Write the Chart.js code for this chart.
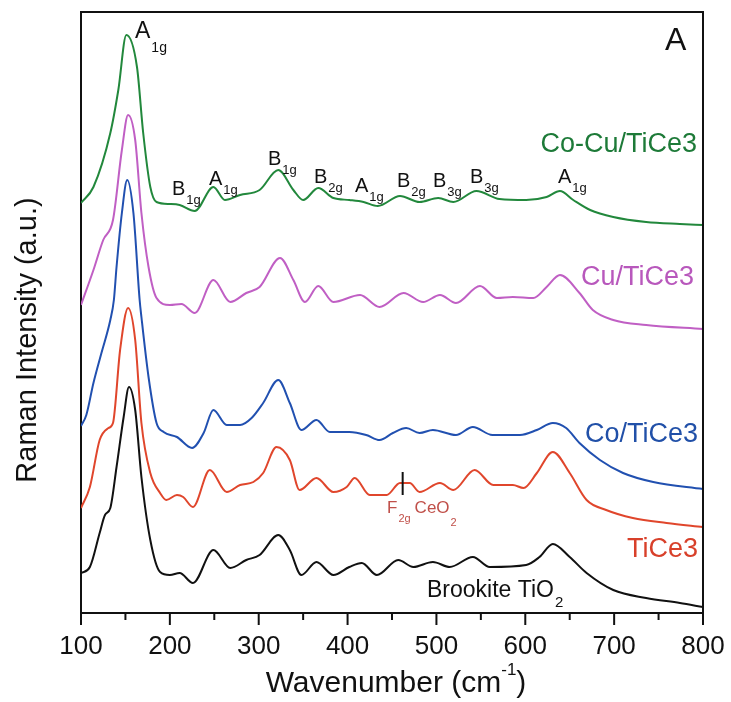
<!DOCTYPE html>
<html>
<head>
<meta charset="utf-8">
<script src="https://cdn.jsdelivr.net/npm/chart.js@4.4.1/dist/chart.umd.min.js"></script>
<style>
  html, body { margin: 0; padding: 0; background: #fff; }
  #wrap { width: 731px; height: 702px; }
</style>
</head>
<body>
<div id="wrap"><canvas id="raman" width="731" height="702"></canvas></div>
<script>
// Raman spectra, stacked (a.u.).
const FONT = '"Liberation Sans", Arial, sans-serif';

const coCuWn = [100, 114, 133, 142, 151, 163, 170, 178, 185, 200, 211, 228, 249, 262, 279, 301, 322, 339, 350, 367, 384, 402, 418, 434, 459, 481, 502, 519, 545, 571, 601, 624, 639, 654, 673, 699, 736, 774, 800];
const coCuInt = [410, 426, 480, 523, 578, 546, 480, 426, 411, 409, 408, 402, 426, 413, 418, 423, 443, 423, 413, 425, 415, 413, 411, 407, 417, 411, 415, 411, 422, 414, 413, 416, 422, 413, 403, 396, 391, 389, 388];

const cuWn = [100, 114, 125, 136, 146, 153, 161, 168, 176, 185, 200, 213, 228, 249, 268, 286, 301, 324, 339, 352, 367, 384, 414, 436, 463, 485, 504, 522, 549, 568, 586, 609, 624, 639, 661, 676, 699, 736, 800];
const cuInt = [308, 343, 373, 393, 463, 498, 473, 400, 346, 315, 308, 309, 300, 333, 311, 320, 326, 355, 333, 311, 327, 311, 318, 306, 320, 311, 318, 310, 327, 315, 316, 315, 326, 338, 320, 303, 293, 288, 284];

const coWn = [100, 106, 114, 123, 133, 137, 140, 146, 152, 159, 166, 168, 176, 185, 193, 208, 225, 238, 249, 264, 279, 292, 305, 322, 335, 348, 365, 380, 402, 421, 436, 451, 466, 481, 496, 522, 541, 563, 594, 613, 631, 646, 661, 684, 710, 744, 800];
const coInt = [187, 198, 230, 260, 293, 313, 346, 400, 433, 400, 313, 296, 236, 190, 181, 176, 165, 180, 203, 188, 188, 195, 210, 233, 210, 183, 193, 181, 181, 178, 173, 180, 185, 180, 183, 178, 186, 178, 178, 183, 190, 185, 170, 153, 140, 131, 124];

const tiCeWn = [100, 110, 121, 131, 136, 144, 153, 161, 168, 178, 189, 196, 208, 215, 226, 245, 264, 279, 294, 305, 320, 335, 346, 365, 384, 399, 408, 425, 444, 459, 470, 481, 504, 519, 543, 564, 586, 598, 613, 631, 650, 669, 691, 721, 759, 800];
const tiCeInt = [105, 126, 173, 185, 190, 263, 305, 273, 190, 140, 120, 113, 118, 116, 106, 143, 121, 128, 131, 140, 166, 153, 123, 135, 121, 126, 135, 118, 118, 130, 130, 121, 130, 123, 143, 128, 128, 125, 140, 161, 140, 113, 103, 95, 90, 86];

const brookWn = [100, 110, 121, 127, 133, 140, 148, 154, 161, 168, 178, 189, 200, 211, 226, 249, 268, 286, 301, 322, 335, 348, 365, 384, 402, 416, 433, 457, 474, 496, 515, 541, 560, 601, 616, 631, 650, 669, 699, 736, 774, 800];
const brookInt = [40, 46, 80, 98, 105, 146, 196, 226, 203, 136, 73, 41, 38, 40, 30, 63, 45, 53, 58, 78, 63, 38, 51, 38, 46, 50, 38, 53, 46, 51, 46, 56, 46, 48, 56, 69, 56, 40, 23, 15, 10, 6];

const xTicks = [100, 200, 300, 400, 500, 600, 700, 800];

const series = [
  { label: "Co-Cu/TiCe3", wn: coCuWn, y: coCuInt, color: "#22883c" },
  { label: "Cu/TiCe3", wn: cuWn, y: cuInt, color: "#c05fc4" },
  { label: "Co/TiCe3", wn: coWn, y: coInt, color: "#2150b0" },
  { label: "TiCe3", wn: tiCeWn, y: tiCeInt, color: "#e0462c" },
  { label: "Brookite TiO2", wn: brookWn, y: brookInt, color: "#111111" },
];

// peak assignments: [main, sub, left px, baseline px, size]
const peakLabels = [
  ["A", "1g", 135, 38, 23],
  ["B", "1g", 172, 195, 20],
  ["A", "1g", 209, 185, 20],
  ["B", "1g", 268, 165, 20],
  ["B", "2g", 314, 183, 20],
  ["A", "1g", 355, 192, 20],
  ["B", "2g", 397, 187, 20],
  ["B", "3g", 433, 187, 20],
  ["B", "3g", 470, 183, 20],
  ["A", "1g", 558, 183, 20],
];

// series names at right end: [text, right px, baseline px, color]
const seriesNames = [
  ["Co-Cu/TiCe3", 697, 152, "#1d7a38"],
  ["Cu/TiCe3", 694, 285, "#b858bc"],
  ["Co/TiCe3", 698, 442, "#2150a8"],
  ["TiCe3", 698, 557, "#d8402a"],
];

function subText(ctx, main, sub, x, y, size, subSize, dy, color) {
  ctx.fillStyle = color;
  ctx.textAlign = "left";
  ctx.textBaseline = "alphabetic";
  ctx.font = `${size}px ${FONT}`;
  ctx.fillText(main, x, y);
  const w = ctx.measureText(main).width;
  ctx.font = `${subSize}px ${FONT}`;
  ctx.fillText(sub, x + w + 1, y + dy);
  return x + w + 1 + ctx.measureText(sub).width;
}

const decor = {
  id: "decor",
  afterDraw(chart) {
    const { ctx, chartArea: a, scales } = chart;
    const xs = scales.x;
    ctx.save();
    // frame top/right
    ctx.strokeStyle = "#111";
    ctx.lineWidth = 2;
    ctx.beginPath();
    ctx.moveTo(a.left, a.top);
    ctx.lineTo(a.right, a.top);
    ctx.lineTo(a.right, a.bottom);
    ctx.stroke();
    // outward ticks, minor every 50
    xs.ticks.forEach((t) => {
      const px = xs.getPixelForValue(t.value);
      const len = t.value % 100 === 0 ? 12 : 7;
      ctx.beginPath();
      ctx.moveTo(px, a.bottom);
      ctx.lineTo(px, a.bottom + len);
      ctx.stroke();
    });

    // axis titles
    ctx.fillStyle = "#111";
    ctx.font = `29px ${FONT}`;
    ctx.textAlign = "center";
    ctx.textBaseline = "middle";
    ctx.save();
    ctx.translate(28, 340);
    ctx.rotate(-Math.PI / 2);
    ctx.fillText("Raman Intensity (a.u.)", 0, 0);
    ctx.restore();

    ctx.textBaseline = "alphabetic";
    ctx.textAlign = "left";
    ctx.font = `30px ${FONT}`;
    const t1 = "Wavenumber (cm";
    const w1 = ctx.measureText(t1).width;
    ctx.font = `17px ${FONT}`;
    const wsup = ctx.measureText("-1").width;
    ctx.font = `30px ${FONT}`;
    const wTot = w1 + wsup + ctx.measureText(")").width;
    let x0 = 396 - wTot / 2;
    ctx.fillText(t1, x0, 692);
    ctx.font = `17px ${FONT}`;
    ctx.fillText("-1", x0 + w1, 675);
    ctx.font = `30px ${FONT}`;
    ctx.fillText(")", x0 + w1 + wsup, 692);

    // panel letter
    ctx.font = `32px ${FONT}`;
    ctx.fillText("A", 665, 50);

    // peak labels
    peakLabels.forEach(([m, s, x, y, size]) => {
      const sub = size > 21 ? 14 : 13;
      subText(ctx, m, s, x, y, size, sub, size > 21 ? 14 : 9, "#111");
    });

    // series names
    ctx.font = `27px ${FONT}`;
    ctx.textAlign = "right";
    seriesNames.forEach(([t, x, y, c]) => {
      ctx.fillStyle = c;
      ctx.fillText(t, x, y);
    });
    subText(ctx, "Brookite TiO", "2", 427, 597, 23, 15, 10, "#111");

    // CeO2 F2g marker
    const fx = xs.getPixelForValue(462);
    ctx.strokeStyle = "#111";
    ctx.lineWidth = 2;
    ctx.beginPath();
    ctx.moveTo(fx, 472);
    ctx.lineTo(fx, 495);
    ctx.stroke();
    const e = subText(ctx, "F", "2g", 387, 513, 17, 11, 9, "#c0504a");
    subText(ctx, "CeO", "2", e + 4, 513, 17, 11, 13, "#c0504a");
    ctx.restore();
  },
};

new Chart(document.getElementById("raman"), {
  type: "line",
  data: {
    datasets: series.map((s) => ({
      label: s.label,
      data: s.wn.map((w, i) => ({ x: w, y: s.y[i] })),
      borderColor: s.color,
      borderWidth: 2,
      pointRadius: 0,
      cubicInterpolationMode: "monotone",
      fill: false,
    })),
  },
  options: {
    responsive: false,
    animation: false,
    layout: { padding: { top: 12, right: 28, left: 0, bottom: 0 } },
    plugins: { legend: { display: false }, tooltip: { enabled: false } },
    scales: {
      x: {
        type: "linear",
        min: 100,
        max: 800,
        afterFit: (s) => {
          s.height = 89;
          s.paddingLeft = 0;
          s.paddingRight = 0;
        },
        afterBuildTicks: (s) => {
          const t = [];
          for (let v = 100; v <= 800; v += 50) t.push({ value: v });
          s.ticks = t;
        },
        ticks: {
          autoSkip: false,
          maxRotation: 0,
          padding: 18,
          color: "#111",
          font: { size: 26, family: FONT },
          callback: (v) => (xTicks.includes(v) ? String(v) : ""),
        },
        grid: { drawOnChartArea: false, drawTicks: false },
        border: { color: "#111", width: 2 },
      },
      y: {
        min: 0,
        max: 601,
        afterFit: (s) => { s.width = 81; },
        ticks: { display: false },
        grid: { display: false, drawTicks: false },
        border: { color: "#111", width: 2 },
      },
    },
  },
  plugins: [decor],
});
</script>
</body>
</html>
